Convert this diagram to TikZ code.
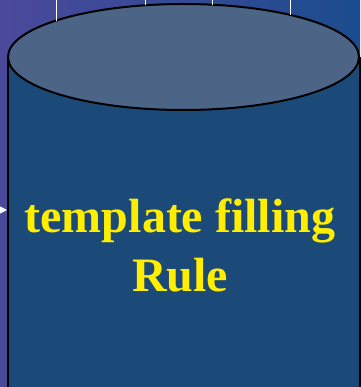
\documentclass[tikz,border=0pt]{standalone}
\usepackage{fontspec}
\setmainfont{Liberation Serif}
\usepackage{xcolor}
\usetikzlibrary{arrows.meta,positioning}

\definecolor{bgleft}{RGB}{75,73,155}
\definecolor{bgright}{RGB}{27,76,142}
\definecolor{drumbody}{RGB}{27,74,120}
\definecolor{drumtop}{RGB}{76,101,135}
\definecolor{ruleyellow}{RGB}{255,238,0}

\begin{document}
\begin{tikzpicture}[
    x=1pt, y=-1pt,
    drum/.style={draw=black, line width=2pt},
    wire/.style={draw=white, line width=1pt},
    rulelabel/.style={align=center, text=ruleyellow, font=\fontsize{48}{59}\selectfont\bfseries},
    >=Stealth
]
    % background
    \useasboundingbox (0,0) rectangle (360,387);
    \shade[left color=bgleft, right color=bgright] (0,0) rectangle (360,387);

    % the drum
    \fill[drumbody] (8,57) rectangle (359.5,390);
    \draw[drum] (8,57) -- (8,390);
    \draw[drum] (359.5,57) -- (359.5,390);
    \filldraw[drum, fill=drumtop] (183.5,57) ellipse [x radius=175.5, y radius=53];

    \node[rulelabel] (rule) at (180,245) {template filling\\Rule};

    % connectors coming in
    \coordinate (in1) at (56,-1);   \coordinate (top1) at (56,20.6);
    \coordinate (in2) at (145.5,-1); \coordinate (top2) at (145.5,5.3);
    \coordinate (in3) at (212,-1);  \coordinate (top3) at (212,4.7);
    \coordinate (in4) at (290,-1);  \coordinate (top4) at (290,14.9);
    \coordinate (inl) at (-10,210); \coordinate (side) at (7,210);

    \draw[wire] (in1) -- (top1);
    \draw[wire] (in2) -- (top2);
    \draw[wire] (in3) -- (top3);
    \draw[wire] (in4) -- (top4);
    \draw[wire, -{Triangle[length=7pt,width=7pt]}] (inl) -- (side);
\end{tikzpicture}
\end{document}
